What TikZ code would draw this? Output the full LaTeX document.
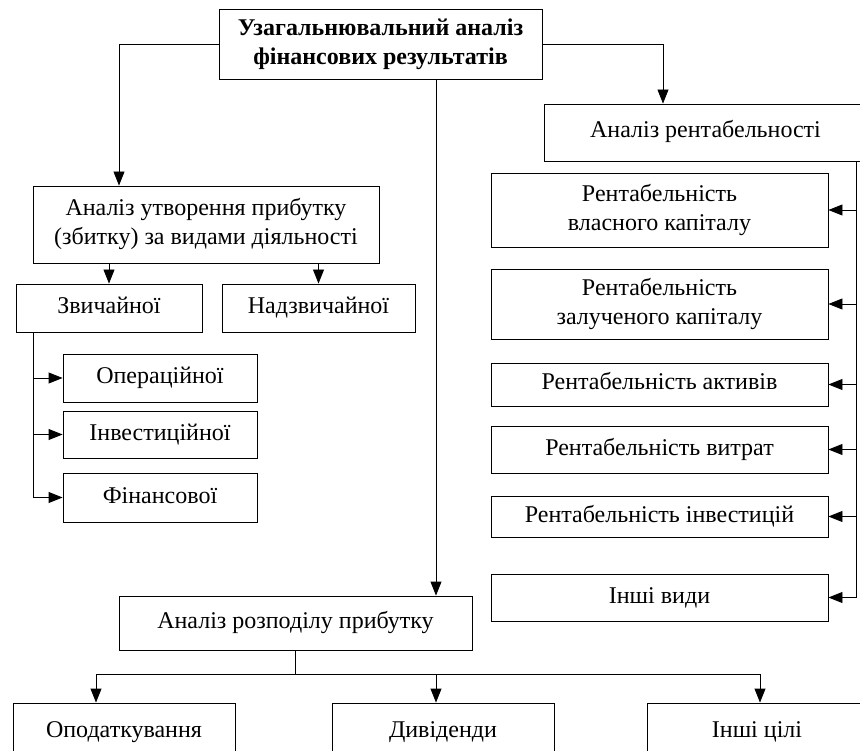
\documentclass[tikz,border=0pt]{standalone}
\usepackage{fontspec}
\setmainfont{Liberation Serif}
\usetikzlibrary{arrows.meta, positioning}

\tikzset{
  box/.style={draw, line width=0.9pt, align=center, inner sep=0pt,
    font=\fontsize{24}{29}\selectfont},
  one/.style={box, text height=16pt, text depth=5pt},
  arr/.style={-{Triangle[length=14pt,width=11pt]}},
  link/.style={line width=0.9pt}
}

\begin{document}
\begin{tikzpicture}[x=1pt,y=-1pt]
  \clip (0,0) rectangle (860,751);
  % top
  \node[box, minimum width=323pt, minimum height=70pt, font=\fontsize{24}{29}\selectfont\bfseries]
    (top) at (380.5,44) {Узагальнювальний аналіз\\фінансових результатів};
  % left branch
  \node[box, minimum width=346pt, minimum height=77pt] (obr) at (206,224.5)
    {Аналіз утворення прибутку\\(збитку) за видами діяльності};
  \node[one, minimum width=186pt, minimum height=48pt] (zvych) at (109,308) {Звичайної};
  \node[one, minimum width=193pt, minimum height=48pt] (nadzv) at (318.5,308) {Надзвичайної};
  \node[one, minimum width=194pt, minimum height=48pt] (oper) at (160,378) {Операційної};
  \node[one, minimum width=194pt, minimum height=47pt] (invest) at (160,434.5) {Інвестиційної};
  \node[one, minimum width=194pt, minimum height=49pt] (fin) at (160,497.5) {Фінансової};
  % right branch
  \node[one, minimum width=323pt, minimum height=57pt] (rent) at (705.5,132.5) {Аналіз рентабельності};
  \node[box, minimum width=337pt, minimum height=74pt] (r1) at (659.5,210) {Рентабельність\\власного капіталу};
  \node[box, minimum width=337pt, minimum height=70pt] (r2) at (659.5,304) {Рентабельність\\залученого капіталу};
  \node[one, minimum width=337pt, minimum height=43pt] (r3) at (659.5,384.5) {Рентабельність активів};
  \node[one, minimum width=337pt, minimum height=47pt] (r4) at (659.5,449.5) {Рентабельність витрат};
  \node[one, minimum width=337pt, minimum height=41pt] (r5) at (659.5,516.5) {Рентабельність інвестицій};
  \node[one, minimum width=337pt, minimum height=47pt] (r6) at (659.5,597.5) {Інші види};
  % bottom branch
  \node[one, minimum width=353pt, minimum height=54pt] (rozp) at (295.5,623) {Аналіз розподілу прибутку};
  \node[one, minimum width=222pt, minimum height=58pt] (opod) at (124,732) {Оподаткування};
  \node[one, minimum width=222pt, minimum height=58pt] (div) at (443,732) {Дивіденди};
  \node[one, minimum width=220pt, minimum height=58pt] (inshi) at (757,732) {Інші цілі};

  \draw[link, arr] (top.west) -| ([xshift=-87pt]obr.north);
  \draw[link, arr] (top.east) -| ([xshift=-42.5pt]rent.north);
  \draw[link, arr] ([xshift=55.5pt]top.south) -- ([xshift=55.5pt]top.south |- rozp.north);

  \draw[link, arr] (obr.south -| zvych.north) -- (zvych.north);
  \draw[link, arr] (obr.south -| nadzv.north) -- (nadzv.north);
  \draw[link] ([xshift=18pt]zvych.south west) coordinate (zv) -- (zv |- fin.west);
  \foreach \n in {oper,invest,fin}
    \draw[link, arr] (zv |- \n.west) -- (\n.west);

  \draw[link] ([xshift=150.5pt]rent.south) coordinate (rv) -- (rv |- r6.east);
  \foreach \n in {r1,r2,r3,r4,r5,r6}
    \draw[link, arr] (rv |- \n.east) -- (\n.east);

  \draw[link] (rozp.south) -- ++(0,24) coordinate (dv);
  \draw[link, arr] (dv) -| ([xshift=-28pt]opod.north);
  \draw[link, arr] (dv) -| ([xshift=-7pt]div.north);
  \draw[link, arr] (dv) -| ([xshift=3pt]inshi.north);
\end{tikzpicture}
\end{document}
